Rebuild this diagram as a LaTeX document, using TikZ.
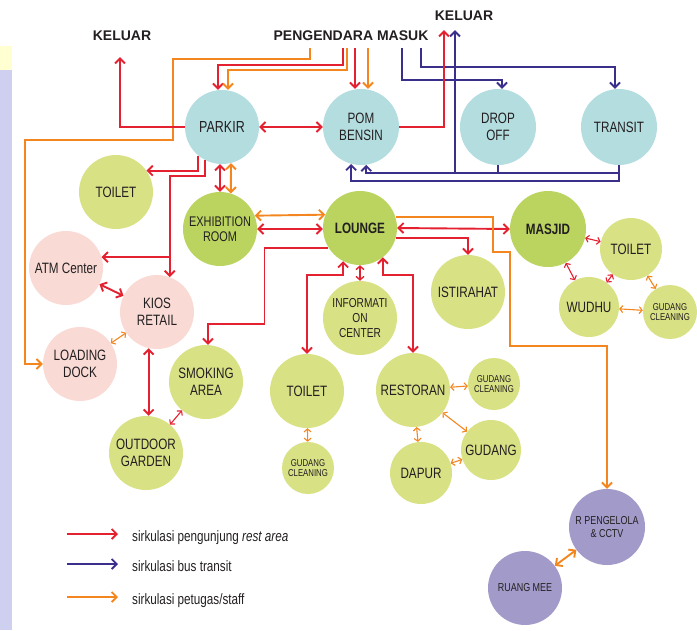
\documentclass[tikz,border=0pt]{standalone}
\usepackage{fontspec}
\setmainfont{Liberation Sans}
\newfontfamily\narrowsf{Liberation Sans}[FakeStretch=0.78]
\usetikzlibrary{arrows.meta}
\definecolor{merah}{HTML}{E42130}
\definecolor{biru}{HTML}{3B2F8C}
\definecolor{oranye}{HTML}{F4861F}
\definecolor{tosca}{HTML}{B4DDE0}
\definecolor{hijau}{HTML}{D9E185}
\definecolor{hijautua}{HTML}{BAD45F}
\definecolor{merahmuda}{HTML}{F9DAD5}
\definecolor{ungu}{HTML}{A29BC9}
\definecolor{teks}{HTML}{231F20}
\definecolor{lavender}{HTML}{CFCFF0}
\definecolor{krem}{HTML}{FFFFD2}

\begin{document}
\begin{tikzpicture}[x=1pt,y=-1pt,>={Straight Barb[length=5pt,width=10pt]},
  ruang/.style={circle,inner sep=0pt,minimum size=74pt,align=center,text=teks,
    font=\narrowsf\fontsize{15}{17}\selectfont},
  kecil/.style={ruang,font=\narrowsf\fontsize{10}{10.7}\selectfont},
  judul/.style={inner sep=0pt,text=teks,font=\bfseries\fontsize{14}{16}\selectfont},
  legenda/.style={anchor=base west,inner sep=0pt,text=teks,font=\narrowsf\fontsize{15}{17}\selectfont},
  pengunjung/.style={draw=merah,line width=1.9pt},
  bus/.style={draw=biru,line width=1.9pt},
  staf/.style={draw=oranye,line width=1.9pt},
  sedang/.style={line width=1.4pt,>={Straight Barb[length=3.5pt,width=8pt]}},
  tipis/.style={line width=1.1pt,>={Straight Barb[length=3pt,width=7pt]}}]
    \useasboundingbox (0,0) rectangle (697,630);
    \fill[lavender] (0,70) rectangle (12,630);
    \fill[krem] (0,46) rectangle (12,70);

    \node[judul] (keluarA) at (122,36) {KELUAR};
    \node[judul] (masuk) at (351,36) {PENGENDARA MASUK};
    \node[judul] (keluarB) at (464,16) {KELUAR};

    \node[ruang,fill=tosca,font=\narrowsf\fontsize{16}{18}\selectfont] (parkir) at (222,127) {PARKIR};
    \node[ruang,fill=tosca,minimum size=76pt] (pom) at (361,127) {POM\\BENSIN};
    \node[ruang,fill=tosca,minimum size=76pt] (drop) at (498,127) {DROP\\OFF};
    \node[ruang,fill=tosca,minimum size=76pt] (transit) at (619,127) {TRANSIT};

    \node[ruang,fill=hijau] (toiletA) at (116,192) {TOILET};
    \node[ruang,fill=hijautua,font=\narrowsf\fontsize{14}{15}\selectfont] (expo) at (220,229) {EXHIBITION\\ROOM};
    \node[ruang,fill=hijautua,font=\narrowsf\bfseries\fontsize{15}{17}\selectfont] (lounge) at (360,228) {LOUNGE};
    \node[ruang,fill=hijautua,minimum size=76pt,font=\narrowsf\bfseries\fontsize{15}{17}\selectfont] (masjid) at (548,229) {MASJID};
    \node[ruang,fill=hijau,minimum size=62pt] (toiletB) at (631,249) {TOILET};
    \node[ruang,fill=hijau,minimum size=60pt] (wudhu) at (589,307) {WUDHU};
    \node[kecil,fill=hijau,minimum size=54pt] (gudangA) at (670,312) {GUDANG\\CLEANING};
    \node[ruang,fill=hijau] (istirahat) at (468,292) {ISTIRAHAT};
    \node[ruang,fill=hijau,font=\narrowsf\fontsize{13}{14.7}\selectfont] (info) at (360,318) {INFORMATI\\ON\\CENTER};

    \node[ruang,fill=merahmuda] (atm) at (66,268) {ATM Center};
    \node[ruang,fill=merahmuda] (kios) at (157,312) {KIOS\\RETAIL};
    \node[ruang,fill=merahmuda] (loading) at (80,364) {LOADING\\DOCK};
    \node[ruang,fill=hijau] (smoking) at (206,382) {SMOKING\\AREA};
    \node[ruang,fill=hijau] (garden) at (146,453) {OUTDOOR\\GARDEN};
    \node[ruang,fill=hijau] (toiletC) at (307,391) {TOILET};
    \node[kecil,fill=hijau,minimum size=52pt] (gudangC) at (308,468) {GUDANG\\CLEANING};
    \node[ruang,fill=hijau] (restoran) at (413,390) {RESTORAN};
    \node[kecil,fill=hijau,minimum size=52pt] (gudangR) at (494,384) {GUDANG\\CLEANING};
    \node[ruang,fill=hijau,minimum size=60pt] (gudang) at (491,450) {GUDANG};
    \node[ruang,fill=hijau,minimum size=62pt] (dapur) at (421,473) {DAPUR};
    \node[ruang,fill=ungu,minimum size=76pt,font=\narrowsf\fontsize{11.5}{12.5}\selectfont] (pengelola) at (607,527) {R PENGELOLA\\\& CCTV};
    \node[ruang,fill=ungu,font=\narrowsf\fontsize{11.5}{12.5}\selectfont] (mee) at (525,588) {RUANG MEE};

    \draw[staf,->] ([xshift=-41pt,yshift=-7pt]masuk.south) -- ++(0,11) -- ++(-137,0) -- ++(0,81) -- ++(-148,0) |- (loading.west);
    \draw[pengunjung,->] ([xshift=-8pt,yshift=-7pt]masuk.south) -- ++(0,17) -| ([xshift=-4pt]parkir.north);
    \draw[staf,->] ([xshift=-4pt,yshift=-7pt]masuk.south) -- ++(0,22) -| ([xshift=6pt]parkir.north);
    \draw[pengunjung,->] ([xshift=4pt,yshift=-7pt]masuk.south) -- ([xshift=-6pt]pom.north);
    \draw[staf,->] ([xshift=17pt,yshift=-7pt]masuk.south) -- ([xshift=7pt]pom.north);
    \draw[pengunjung,->] (parkir.west) -| ([xshift=-2pt,yshift=-16pt]keluarA.south);
    \draw[pengunjung,<->] (parkir) -- (pom);

    \draw[bus,->] ([xshift=51pt,yshift=-7pt]masuk.south) -- ++(0,32) -| ([xshift=4pt]drop.north);
    \draw[bus,->] ([xshift=70pt,yshift=-7pt]masuk.south) -- ++(0,19) -| ([xshift=-4pt]transit.north);
    \draw[bus,->] (drop.south) -- ++(0,8) -| (pom.-82);
    \draw[bus] (transit.south) |- ([yshift=-8pt]drop.south);
    \draw[bus,->] (transit.south) -- ++(0,16) -| (pom.-105);
    \draw[bus,->] ([yshift=-8pt]drop.south) -| ([xshift=-9pt,yshift=-9pt]keluarB.south);
    \draw[pengunjung,->] (pom.east) -| ([xshift=-20pt,yshift=-9pt]keluarB.south);

    \draw[pengunjung,->] (parkir.-130) |- (toiletA.35);
    \draw[pengunjung,->] (parkir.-117) -- ++(0,16) -| (kios.70);
    \draw[pengunjung,->] (kios.70 |- atm.17) -- (atm.17);
    \draw[pengunjung,<->] (parkir.-93) -- (expo.north);
    \draw[staf,<->] (parkir.-76) -- (expo.73);

    \draw[staf,<->] (expo.21) -- (lounge.159);
    \draw[pengunjung,<->] (expo.east) -- (expo.east -| lounge.west);
    \draw[pengunjung,->] (lounge.212) -- ++(-64,0) -- ++(0,76) -| (smoking.87);
    \draw[pengunjung,<->] (lounge.-117) -- ++(0,14) -| (toiletC.north);
    \draw[pengunjung,sedang,<->] (lounge.south) -- (info.north);
    \draw[pengunjung,<->] (lounge.-52) -- ++(0,18) -| (restoran.north);
    \draw[pengunjung,->] (lounge.-16) -| (istirahat.north);
    \draw[pengunjung,<->] (lounge.east) -- (masjid.west);
    \draw[staf,->] (lounge.17) -- ++(97,0) -- ++(0,35) -- ++(17,0) -- ++(0,94) -| (pengelola.north);

    \draw[pengunjung,tipis,<->] (masjid) -- (toiletB);
    \draw[pengunjung,tipis,<->] (masjid) -- (wudhu);
    \draw[pengunjung,tipis,<->] (wudhu) -- (toiletB);
    \draw[staf,tipis,<->] (toiletB) -- (gudangA);
    \draw[staf,tipis,<->] (wudhu) -- (gudangA);

    \draw[pengunjung,<->] (atm) -- (kios);
    \draw[staf,tipis,<->] (loading) -- (kios);
    \draw[pengunjung,<->] (kios.-103) -- (kios.-103 |- garden.north);
    \draw[pengunjung,tipis,<->] (smoking) -- (garden);
    \draw[staf,tipis,<->] (toiletC) -- (gudangC);

    \draw[staf,tipis,<->] (restoran) -- (gudangR);
    \draw[staf,tipis,<->] (restoran) -- (gudang);
    \draw[staf,tipis,<->] (restoran) -- (dapur);
    \draw[staf,tipis,<->] (dapur) -- (gudang);
    \draw[staf,<->] (pengelola) -- (mee);

    \node[legenda] (lgA) at (132,541) {sirkulasi pengunjung \textit{rest area}};
    \node[legenda] (lgB) at (132,571) {sirkulasi bus transit};
    \node[legenda] (lgC) at (132,604) {sirkulasi petugas/staff};
    \draw[pengunjung,->] ([xshift=-65pt,yshift=7pt]lgA.base west) -- ([xshift=-14pt,yshift=7pt]lgA.base west);
    \draw[bus,->] ([xshift=-65pt,yshift=7pt]lgB.base west) -- ([xshift=-14pt,yshift=7pt]lgB.base west);
    \draw[staf,->] ([xshift=-65pt,yshift=7pt]lgC.base west) -- ([xshift=-14pt,yshift=7pt]lgC.base west);
\end{tikzpicture}
\end{document}
